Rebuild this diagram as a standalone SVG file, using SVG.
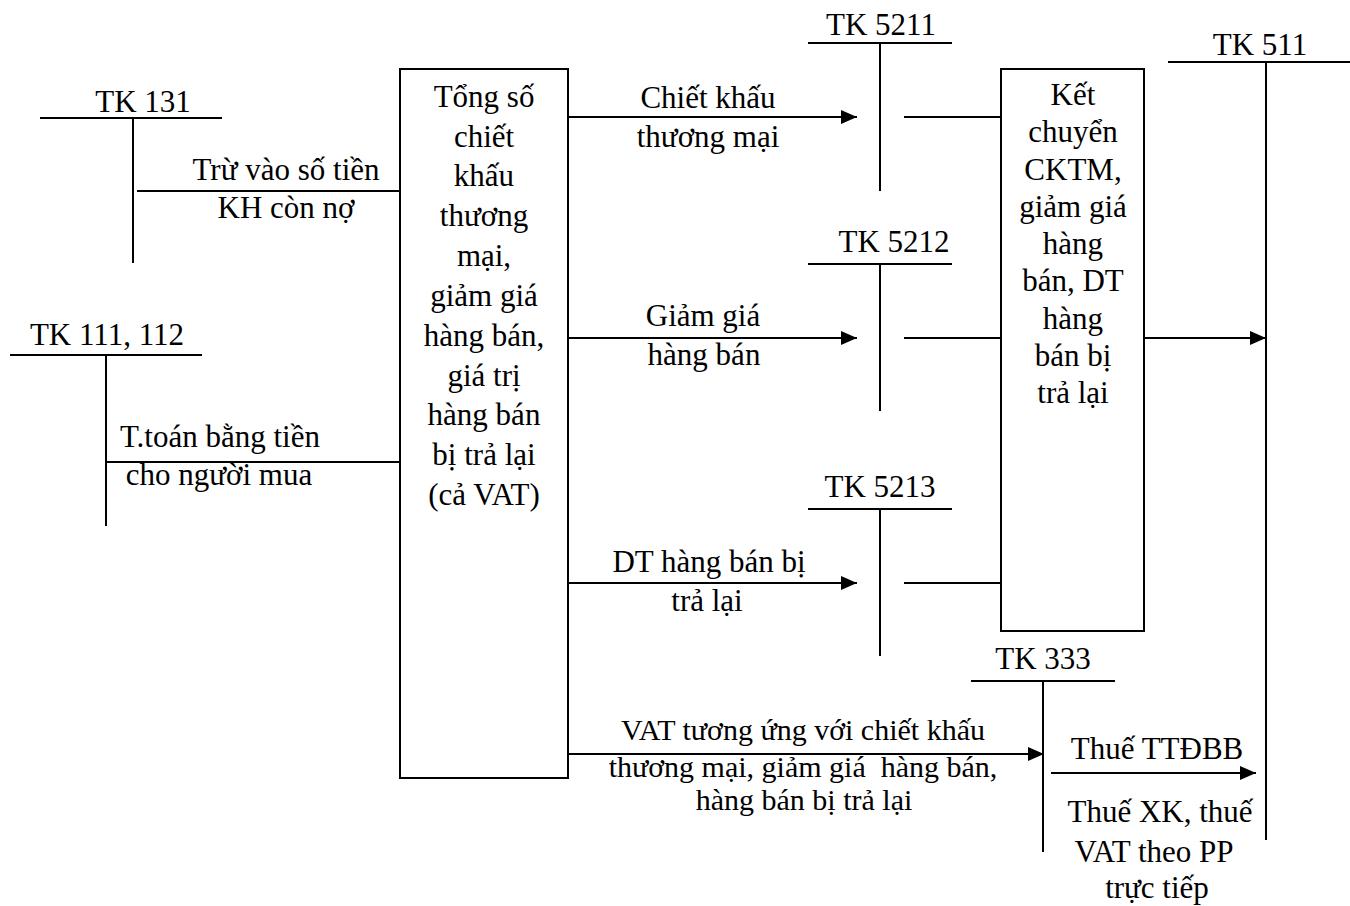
<svg xmlns="http://www.w3.org/2000/svg" width="1350" height="906" viewBox="0 0 1350 906">
<style>
text{font-family:"Liberation Serif","Times New Roman",serif;font-size:31px;fill:#000;text-anchor:middle}
.s{font-size:30px}
line,rect{stroke:#000;stroke-width:2;fill:none}
</style>
<defs>
<marker id="ah" markerWidth="16" markerHeight="14" refX="16" refY="7" orient="auto" markerUnits="userSpaceOnUse">
<path d="M0,0 L16,7 L0,14 Z" fill="#000"/>
</marker>
</defs>
<rect width="1350" height="906" fill="#fff" style="stroke:none"/>

<g id="tk131">
<line x1="40" y1="118" x2="222" y2="118"/>
<line x1="133" y1="118" x2="133" y2="263"/>
<text x="143" y="112">TK 131</text>
</g>

<g id="tk111">
<line x1="10" y1="355" x2="202" y2="355"/>
<line x1="106" y1="355" x2="106" y2="526"/>
<text x="107" y="345">TK 111, 112</text>
</g>

<g id="box-tong">
<rect x="400" y="69" width="168" height="709"/>
<text x="484" y="107">Tổng số</text>
<text x="484" y="147">chiết</text>
<text x="484" y="186">khấu</text>
<text x="484" y="226">thương</text>
<text x="484" y="266">mại,</text>
<text x="484" y="306">giảm giá</text>
<text x="484" y="346">hàng bán,</text>
<text x="484" y="386">giá trị</text>
<text x="484" y="425">hàng bán</text>
<text x="484" y="465">bị trả lại</text>
<text x="484" y="505">(cả VAT)</text>
</g>

<g id="tk5211">
<line x1="808" y1="43" x2="952" y2="43"/>
<line x1="880" y1="43" x2="880" y2="191"/>
<text x="881" y="35">TK 5211</text>
</g>

<g id="tk5212">
<line x1="808" y1="264" x2="952" y2="264"/>
<line x1="880" y1="264" x2="880" y2="411"/>
<text x="894" y="252">TK 5212</text>
</g>

<g id="tk5213">
<line x1="808" y1="509" x2="952" y2="509"/>
<line x1="880" y1="509" x2="880" y2="656"/>
<text x="880" y="497">TK 5213</text>
</g>

<g id="box-ketchuyen">
<rect x="1001" y="69" width="143" height="562"/>
<text x="1073" y="105">Kết</text>
<text x="1073" y="142">chuyển</text>
<text x="1073" y="180">CKTM,</text>
<text x="1073" y="217">giảm giá</text>
<text x="1073" y="254">hàng</text>
<text x="1073" y="291">bán, DT</text>
<text x="1073" y="329">hàng</text>
<text x="1073" y="366">bán bị</text>
<text x="1073" y="403">trả lại</text>
</g>

<g id="tk511">
<line x1="1168" y1="62" x2="1350" y2="62"/>
<line x1="1266" y1="62" x2="1266" y2="840"/>
<text x="1260" y="55">TK 511</text>
</g>

<g id="tk333">
<line x1="971" y1="681" x2="1115" y2="681"/>
<line x1="1043" y1="681" x2="1043" y2="852"/>
<text x="1043" y="669">TK 333</text>
</g>

<g id="connectors">
<line x1="137" y1="191" x2="400" y2="191"/>
<line x1="106" y1="462" x2="400" y2="462"/>
<line x1="568" y1="117" x2="857" y2="117" marker-end="url(#ah)"/>
<line x1="568" y1="338" x2="857" y2="338" marker-end="url(#ah)"/>
<line x1="568" y1="583" x2="857" y2="583" marker-end="url(#ah)"/>
<line x1="904" y1="117" x2="1001" y2="117"/>
<line x1="904" y1="338" x2="1001" y2="338"/>
<line x1="904" y1="583" x2="1001" y2="583"/>
<line x1="1144" y1="338" x2="1266" y2="338" marker-end="url(#ah)"/>
<line x1="568" y1="754" x2="1044" y2="754" marker-end="url(#ah)"/>
<line x1="1051" y1="773" x2="1256" y2="773" marker-end="url(#ah)"/>
</g>

<g id="labels">
<text x="286" y="180">Trừ vào số tiền</text>
<text x="286" y="218">KH còn nợ</text>
<text x="220" y="447">T.toán bằng tiền</text>
<text x="219" y="485">cho người mua</text>
<text x="708" y="108">Chiết khấu</text>
<text x="708" y="147">thương mại</text>
<text x="703" y="326">Giảm giá</text>
<text x="704" y="365">hàng bán</text>
<text x="709" y="572">DT hàng bán bị</text>
<text x="707" y="611">trả lại</text>
<text class="s" x="803" y="740">VAT tương ứng với chiết khấu</text>
<text class="s" x="803" y="777" xml:space="preserve">thương mại, giảm giá  hàng bán,</text>
<text class="s" x="804" y="810">hàng bán bị trả lại</text>
<text x="1157" y="759">Thuế TTĐBB</text>
<text x="1160" y="822">Thuế XK, thuế</text>
<text x="1154" y="862">VAT theo PP</text>
<text x="1157" y="898">trực tiếp</text>
</g>
</svg>
